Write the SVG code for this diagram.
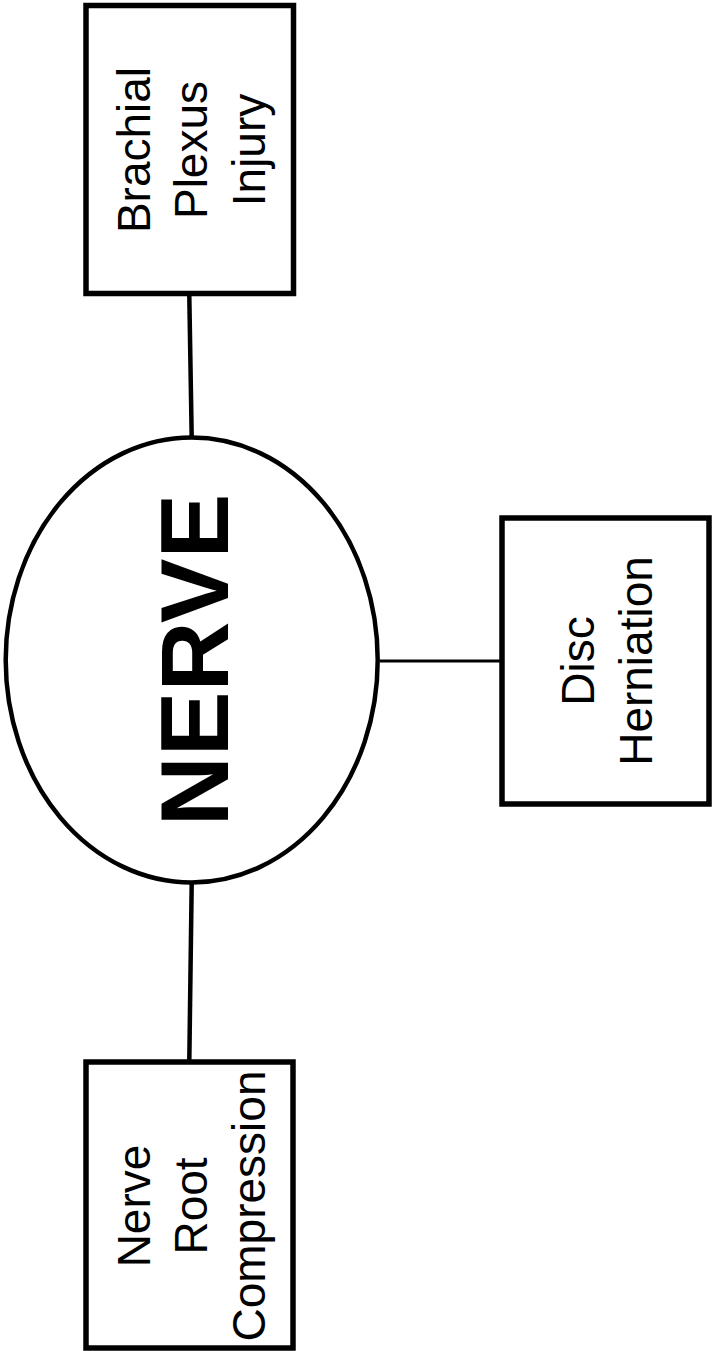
<svg xmlns="http://www.w3.org/2000/svg" width="713" height="1351" viewBox="0 0 713 1351">
<style>
.box{fill:#fff;stroke:#000;stroke-width:5.5}
.ell{fill:#fff;stroke:#000;stroke-width:4.5}
.lbl{font-family:"Liberation Sans",Arial,sans-serif;font-size:46px;fill:#000;text-anchor:middle}
.big{font-family:"Liberation Sans",Arial,sans-serif;font-size:97px;font-weight:bold;fill:#000;text-anchor:middle}
.con{stroke:#000;fill:none}
</style>
<rect width="713" height="1351" fill="#fff"/>
<g id="connectors">
<line class="con" x1="189.3" y1="296" x2="191.7" y2="437" stroke-width="4.5"/>
<line class="con" x1="191.7" y1="883" x2="189.3" y2="1061" stroke-width="4.5"/>
<line class="con" x1="380" y1="661" x2="500" y2="661" stroke-width="3"/>
</g>
<g id="node-nerve">
<ellipse class="ell" cx="191.7" cy="660" rx="186" ry="222.5"/>
<text class="big" transform="translate(228.3,660) rotate(-90)" x="0" y="0">NERVE</text>
</g>
<g id="node-brachial">
<rect class="box" x="86" y="5.5" width="207.5" height="288"/>
<text class="lbl" transform="translate(189.5,150) rotate(-90)"><tspan x="0" y="-39.5">Brachial</tspan><tspan x="0" y="17.5">Plexus</tspan><tspan x="0" y="75">Injury</tspan></text>
</g>
<g id="node-disc">
<rect class="box" x="502" y="518" width="207" height="286"/>
<text class="lbl" transform="translate(605.5,661) rotate(-90)"><tspan x="0" y="-12">Disc</tspan><tspan x="0" y="46.5">Herniation</tspan></text>
</g>
<g id="node-root">
<rect class="box" x="86" y="1062" width="207" height="286"/>
<text class="lbl" transform="translate(189.5,1206) rotate(-90)"><tspan x="0" y="-39.5">Nerve</tspan><tspan x="0" y="17.5">Root</tspan><tspan x="0" y="75">Compression</tspan></text>
</g>
</svg>
